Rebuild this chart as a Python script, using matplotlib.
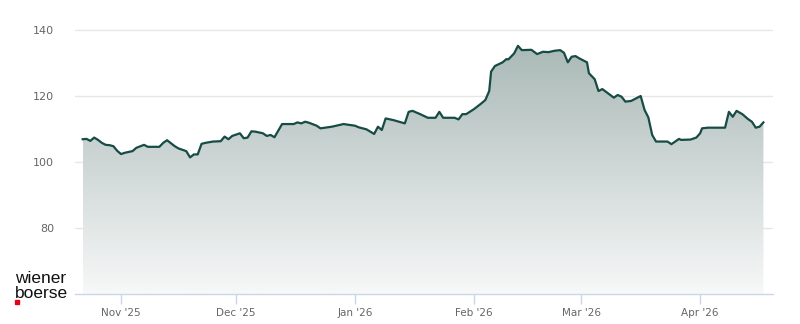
#!/usr/bin/env python3
"""Price chart of a wiener boerse share, Oct 2025 - Apr 2026."""

import matplotlib
matplotlib.use('Agg')
from matplotlib import pyplot as plt
import matplotlib.dates as mdates
from matplotlib.colors import LinearSegmentedColormap
import numpy as np
import pandas as pd

dates = [
    '2025-10-22', '2025-10-23', '2025-10-24', '2025-10-25', '2025-10-26',
    '2025-10-27', '2025-10-28', '2025-10-29', '2025-10-30', '2025-10-31',
    '2025-11-01', '2025-11-02', '2025-11-04', '2025-11-05', '2025-11-07',
    '2025-11-08', '2025-11-09', '2025-11-11', '2025-11-12', '2025-11-13',
    '2025-11-15', '2025-11-16', '2025-11-18', '2025-11-19', '2025-11-20',
    '2025-11-21', '2025-11-22', '2025-11-23', '2025-11-25', '2025-11-27',
    '2025-11-28', '2025-11-29', '2025-11-30', '2025-12-02', '2025-12-03',
    '2025-12-04', '2025-12-05', '2025-12-06', '2025-12-08', '2025-12-09',
    '2025-12-10', '2025-12-11', '2025-12-13', '2025-12-16', '2025-12-17',
    '2025-12-18', '2025-12-19', '2025-12-20', '2025-12-22', '2025-12-23',
    '2025-12-26', '2025-12-29', '2026-01-01', '2026-01-02', '2026-01-04',
    '2026-01-06', '2026-01-07', '2026-01-08', '2026-01-09', '2026-01-11',
    '2026-01-14', '2026-01-15', '2026-01-16', '2026-01-18', '2026-01-20',
    '2026-01-22', '2026-01-23', '2026-01-24', '2026-01-27', '2026-01-28',
    '2026-01-29', '2026-01-30', '2026-02-01', '2026-02-03', '2026-02-04',
    '2026-02-05 00:00', '2026-02-05 12:00', '2026-02-06 12:00',
    '2026-02-08 12:00', '2026-02-09 12:00', '2026-02-10 00:00',
    '2026-02-11 12:00', '2026-02-12 12:00', '2026-02-13 12:00',
    '2026-02-16 00:00', '2026-02-17 12:00', '2026-02-19 00:00',
    '2026-02-20 12:00', '2026-02-22 00:00', '2026-02-23 12:00',
    '2026-02-24 12:00', '2026-02-25 12:00', '2026-02-26 12:00',
    '2026-02-27 12:00', '2026-02-28 12:00', '2026-03-02 12:00',
    '2026-03-03 00:00', '2026-03-04 12:00', '2026-03-05 12:00',
    '2026-03-06 12:00', '2026-03-08 00:00', '2026-03-09 12:00',
    '2026-03-10 12:00', '2026-03-11 12:00', '2026-03-12 12:00',
    '2026-03-14 00:00', '2026-03-16 12:00', '2026-03-17 12:00',
    '2026-03-18 12:00', '2026-03-19 12:00', '2026-03-20 12:00',
    '2026-03-21 12:00', '2026-03-23 12:00', '2026-03-24 12:00',
    '2026-03-25 12:00', '2026-03-26 12:00', '2026-03-27 00:00',
    '2026-03-29 12:00', '2026-03-31 00:00', '2026-04-01 00:00',
    '2026-04-01 12:00', '2026-04-03 00:00', '2026-04-05 12:00',
    '2026-04-07 12:00', '2026-04-08 12:00', '2026-04-09 12:00',
    '2026-04-10 12:00', '2026-04-12 00:00', '2026-04-13 12:00',
    '2026-04-14 12:00', '2026-04-15 12:00', '2026-04-16 12:00',
    '2026-04-17 12:00',
]
prices = [
    106.9, 107.0, 106.4, 107.4, 106.7,
    105.8, 105.2, 105.1, 104.8, 103.4,
    102.4, 102.8, 103.3, 104.3, 105.2,
    104.6, 104.6, 104.6, 105.8, 106.6,
    104.8, 104.1, 103.3, 101.4, 102.3,
    102.3, 105.5, 105.8, 106.2, 106.3,
    107.7, 106.9, 107.9, 108.7, 107.2,
    107.4, 109.3, 109.2, 108.7, 107.9,
    108.2, 107.5, 111.5, 111.5, 112.0,
    111.7, 112.2, 111.9, 111.0, 110.2,
    110.7, 111.5, 111.0, 110.5, 109.9,
    108.5, 110.7, 109.7, 113.2, 112.7,
    111.7, 115.2, 115.5, 114.5, 113.4,
    113.4, 115.2, 113.4, 113.4, 112.9,
    114.5, 114.5, 116.0, 117.8, 118.8,
    121.5, 127.4, 129.1,
    130.2, 131.2, 131.1,
    132.9, 135.2, 133.9,
    134.0, 132.7, 133.4,
    133.3, 133.7, 133.9,
    133.1, 130.2, 131.9,
    132.1, 131.4, 130.2,
    126.9, 125.1, 121.5,
    122.1, 120.8, 119.5,
    120.3, 119.8, 118.3,
    118.5, 120.0, 115.8,
    113.5, 108.2, 106.2,
    106.2, 106.2, 105.4,
    106.2, 107.0, 106.7,
    106.8, 107.4, 108.7,
    110.2, 110.4, 110.4,
    110.4, 115.2, 113.7,
    115.5, 114.5, 113.0,
    112.2, 110.4, 110.7,
    112.0,
]
y_ticks = [80, 100, 120, 140]

LINE = '#174b45'
GRID = '#e6e6e6'
AXIS = '#ccd6eb'
LABEL = '#666666'


def main():
    x = pd.to_datetime(dates, format='mixed')
    y = np.array(prices)

    fig = plt.figure(figsize=(8, 3.24), dpi=100)
    ax = fig.add_axes([75 / 800, 30 / 324, 698 / 800, 274 / 324])
    ymin, ymax = 60, 60 + 274 / 3.3
    ax.set_ylim(ymin, ymax)
    ax.set_xlim(pd.Timestamp('2025-10-20'), pd.Timestamp('2026-04-20'))

    # gradient fill under the line
    fill = ax.fill_between(x, y, ymin, facecolor='none', edgecolor='none')
    cmap = LinearSegmentedColormap.from_list('g', ['#f7f8f8', '#a2b3b0'])
    grad = np.linspace(0, 1, 256).reshape(-1, 1)
    x0, x1 = mdates.date2num(x[0]), mdates.date2num(x[-1])
    img = ax.imshow(grad, cmap=cmap, aspect='auto', origin='lower',
                    extent=[x0, x1, ymin, ymax], zorder=1)
    img.set_clip_path(fill.get_paths()[0], transform=ax.transData)

    ax.plot(x, y, color=LINE, lw=1.6, zorder=3, solid_joinstyle='round')

    ax.set_yticks(y_ticks)
    ax.grid(axis='y', color=GRID, lw=1, zorder=0)
    ax.set_axisbelow(True)
    for side in ('left', 'right', 'top'):
        ax.spines[side].set_visible(False)
    ax.spines['bottom'].set_color(AXIS)
    ax.spines['bottom'].set_linewidth(1)
    ax.spines['bottom'].set_zorder(4)

    ax.xaxis.set_major_locator(mdates.MonthLocator(bymonthday=1))
    ax.xaxis.set_major_formatter(mdates.DateFormatter("%b '%y"))
    ax.tick_params(axis='x', colors=AXIS, length=7, width=1, labelsize=7.5,
                   labelcolor=LABEL, pad=3)
    ax.tick_params(axis='y', length=0, labelsize=8, labelcolor=LABEL, pad=15)

    # logo
    fig.text(15 / 800, 1 - 283 / 324, 'wiener', fontsize=12.5,
             family='Liberation Sans', color='#111111', va='baseline')
    fig.text(15 / 800, 1 - 297.5 / 324, 'boerse', fontsize=12.5,
             family='Liberation Sans', color='#111111', va='baseline')
    fig.patches.append(plt.Rectangle((15 / 800, 1 - 304 / 324), 4 / 800,
                                     4 / 324, transform=fig.transFigure,
                                     color='#e2001a', figure=fig))

    fig.savefig('out.png', dpi=100)


if __name__ == '__main__':
    main()
